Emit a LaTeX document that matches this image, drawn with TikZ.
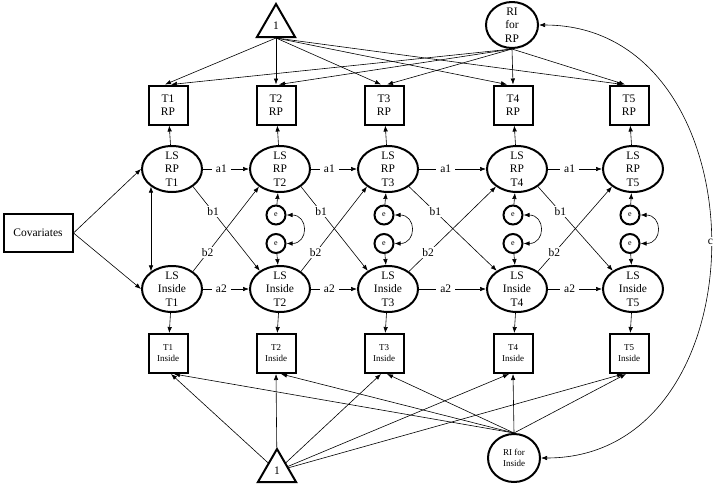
\documentclass[tikz,border=0pt]{standalone}
\usepackage{fontspec}
\setmainfont{Liberation Serif}
\usetikzlibrary{shapes.geometric, arrows.meta}
\tikzstyle{latent} = [ellipse, draw=black, line width=2pt, minimum width=60pt, minimum height=46pt, inner xsep=0pt, inner ysep=-3pt, align=center, font=\fontsize{11.5}{13.5}\selectfont]
\tikzstyle{obsrp} = [rectangle, draw=black, line width=2pt, minimum width=39pt, minimum height=39pt, inner sep=0pt, align=center, font=\fontsize{11.5}{13.5}\selectfont]
\tikzstyle{obsin} = [obsrp, font=\fontsize{9}{11}\selectfont]
\tikzstyle{resid} = [circle, draw=black, line width=2pt, minimum size=19pt, inner sep=0pt, font=\fontsize{8}{9}\selectfont]
\tikzstyle{const} = [regular polygon, regular polygon sides=3, draw=black, line width=2pt, minimum size=44pt, inner sep=0pt, font=\fontsize{11.5}{13.5}\selectfont]
\tikzstyle{arrow} = [line width=0.6pt, -{Latex[length=6pt, width=4.5pt]}]
\tikzstyle{both} = [line width=0.6pt, {Latex[length=6pt, width=4.5pt]}-{Latex[length=6pt, width=4.5pt]}]
\tikzstyle{coef} = [fill=white, inner xsep=4pt, inner ysep=1.5pt, font=\fontsize{11.5}{13.5}\selectfont]

\begin{document}
\begin{tikzpicture}[x=1pt, y=-1pt]

    \useasboundingbox (0,0) rectangle (715,483);

    \node (one) [const] at (276,26) {1};
    \node (rirp) [latent, minimum width=52pt] at (512,25) {RI\\for\\RP};

    \node (rp1box) [obsrp] at (168,105) {T1\\RP};
    \node (rp2box) [obsrp] at (276,105) {T2\\RP};
    \node (rp3box) [obsrp] at (384,105) {T3\\RP};
    \node (rp4box) [obsrp] at (513,105) {T4\\RP};
    \node (rp5box) [obsrp] at (629,105) {T5\\RP};

    \node (rp1) [latent] at (172,169) {LS\\RP\\T1};
    \node (rp2) [latent] at (280,169) {LS\\RP\\T2};
    \node (rp3) [latent] at (388,169) {LS\\RP\\T3};
    \node (rp4) [latent] at (517,169) {LS\\RP\\T4};
    \node (rp5) [latent] at (633,169) {LS\\RP\\T5};

    \node (cov) [obsrp, minimum width=69pt, minimum height=38pt] at (38,233) {Covariates};

    \node (eu2) [resid] at (276,215) {e};
    \node (el2) [resid] at (276,243.5) {e};
    \node (eu3) [resid] at (384,215) {e};
    \node (el3) [resid] at (384,243.5) {e};
    \node (eu4) [resid] at (513,215) {e};
    \node (el4) [resid] at (513,243.5) {e};
    \node (eu5) [resid] at (630,215) {e};
    \node (el5) [resid] at (630,243.5) {e};

    \node (in1) [latent] at (172,289) {LS\\Inside\\T1};
    \node (in2) [latent] at (280,289) {LS\\Inside\\T2};
    \node (in3) [latent] at (388,289) {LS\\Inside\\T3};
    \node (in4) [latent] at (517,289) {LS\\Inside\\T4};
    \node (in5) [latent] at (633,289) {LS\\Inside\\T5};

    \node (in1box) [obsin] at (168,353.5) {T1\\Inside};
    \node (in2box) [obsin] at (276,353.5) {T2\\Inside};
    \node (in3box) [obsin] at (384,353.5) {T3\\Inside};
    \node (in4box) [obsin] at (513,353.5) {T4\\Inside};
    \node (in5box) [obsin] at (629,353.5) {T5\\Inside};

    \node (onein) [const] at (277,471) {1};
    \node (riin) [latent, font=\fontsize{9}{11}\selectfont, minimum width=52pt, minimum height=48pt] at (514,458) {RI for\\Inside};

    % intercepts and random intercept for RP
    \draw[arrow] (one.south) -- ([xshift=-3pt]rp1box.north);
    \draw[arrow] (one.south) -- (rp2box.north);
    \draw[arrow] (one.south) -- ([xshift=-3pt]rp3box.north);
    \draw[arrow] (one.south) -- ([xshift=-6pt]rp4box.north);
    \draw[arrow] (one.south) -- ([xshift=-6pt]rp5box.north);
    \draw[arrow] (rirp.south) -- ([xshift=3pt]rp1box.north);
    \draw[arrow] (rirp.south) -- ([xshift=3pt]rp2box.north);
    \draw[arrow] (rirp.south) -- ([xshift=3pt]rp3box.north);
    \draw[arrow] (rirp.south) -- (rp4box.north);
    \draw[arrow] (rirp.south) -- ([xshift=-4pt]rp5box.north);

    \draw[arrow] (rp1) -- (rp1box);
    \draw[arrow] (rp2) -- (rp2box);
    \draw[arrow] (rp3) -- (rp3box);
    \draw[arrow] (rp4) -- (rp4box);
    \draw[arrow] (rp5) -- (rp5box);

    \draw[arrow] (cov.east) -- (rp1.west);
    \draw[arrow] (cov.east) -- (in1.west);
    \draw[both] (rp1.220) -- (in1.140);

    % autoregressive paths
    \draw[arrow] (rp1) -- node[coef, pos=0.4] {a1} (rp2);
    \draw[arrow] (rp2) -- node[coef, pos=0.4] {a1} (rp3);
    \draw[arrow] (rp3) -- node[coef, pos=0.4] {a1} (rp4);
    \draw[arrow] (rp4) -- node[coef, pos=0.4] {a1} (rp5);
    \draw[arrow] (in1) -- node[coef, pos=0.4] {a2} (in2);
    \draw[arrow] (in2) -- node[coef, pos=0.4] {a2} (in3);
    \draw[arrow] (in3) -- node[coef, pos=0.4] {a2} (in4);
    \draw[arrow] (in4) -- node[coef, pos=0.4] {a2} (in5);

    % cross-lagged paths
    \draw[arrow] (rp1.-40) -- node[coef, pos=0.3] {b1} (in2.138);
    \draw[arrow] (rp2.-40) -- node[coef, pos=0.3] {b1} (in3.138);
    \draw[arrow] (rp3.-40) -- node[coef, pos=0.3] {b1} (in4.138);
    \draw[arrow] (rp4.-40) -- node[coef, pos=0.3] {b1} (in5.138);
    \draw[arrow] (in1.40) -- node[coef, pos=0.22] {b2} (rp2.220);
    \draw[arrow] (in2.40) -- node[coef, pos=0.22] {b2} (rp3.220);
    \draw[arrow] (in3.40) -- node[coef, pos=0.22] {b2} (rp4.220);
    \draw[arrow] (in4.40) -- node[coef, pos=0.22] {b2} (rp5.220);

    % residuals
    \draw[arrow] (eu2) -- (rp2);
    \draw[arrow] (el2) -- (in2);
    \draw[both] (eu2.east) to[out=0, in=0, looseness=2] (el2.east);
    \draw[arrow] (eu3) -- (rp3);
    \draw[arrow] (el3) -- (in3);
    \draw[both] (eu3.east) to[out=0, in=0, looseness=2] (el3.east);
    \draw[arrow] (eu4) -- (rp4);
    \draw[arrow] (el4) -- (in4);
    \draw[both] (eu4.east) to[out=0, in=0, looseness=2] (el4.east);
    \draw[arrow] (eu5) -- (rp5);
    \draw[arrow] (el5) -- (in5);
    \draw[both] (eu5.east) to[out=0, in=0, looseness=2] (el5.east);

    \draw[arrow] (in1) -- (in1box);
    \draw[arrow] (in2) -- (in2box);
    \draw[arrow] (in3) -- (in3box);
    \draw[arrow] (in4) -- (in4box);
    \draw[arrow] (in5) -- (in5box);

    % intercepts and random intercept for Inside
    \draw[arrow] (onein) -- ([xshift=3pt]in1box.south);
    \draw[arrow] (onein) -- (in2box.south);
    \draw[arrow] (onein) -- ([xshift=-3pt]in3box.south);
    \draw[arrow] (onein) -- ([xshift=-4pt]in4box.south);
    \draw[arrow] (onein) -- ([xshift=-6pt]in5box.south);
    \draw[arrow] (riin.north) -- ([xshift=6pt]in1box.south);
    \draw[arrow] (riin.north) -- ([xshift=5pt]in2box.south);
    \draw[arrow] (riin.north) -- ([xshift=3pt]in3box.south);
    \draw[arrow] (riin.north) -- (in4box.south);
    \draw[arrow] (riin.north) -- ([xshift=-3pt]in5box.south);

    \draw[both] (rirp.east) to[out=0, in=0, looseness=1.34] node[coef, inner xsep=1pt] {c} (riin.east);

\end{tikzpicture}
\end{document}
